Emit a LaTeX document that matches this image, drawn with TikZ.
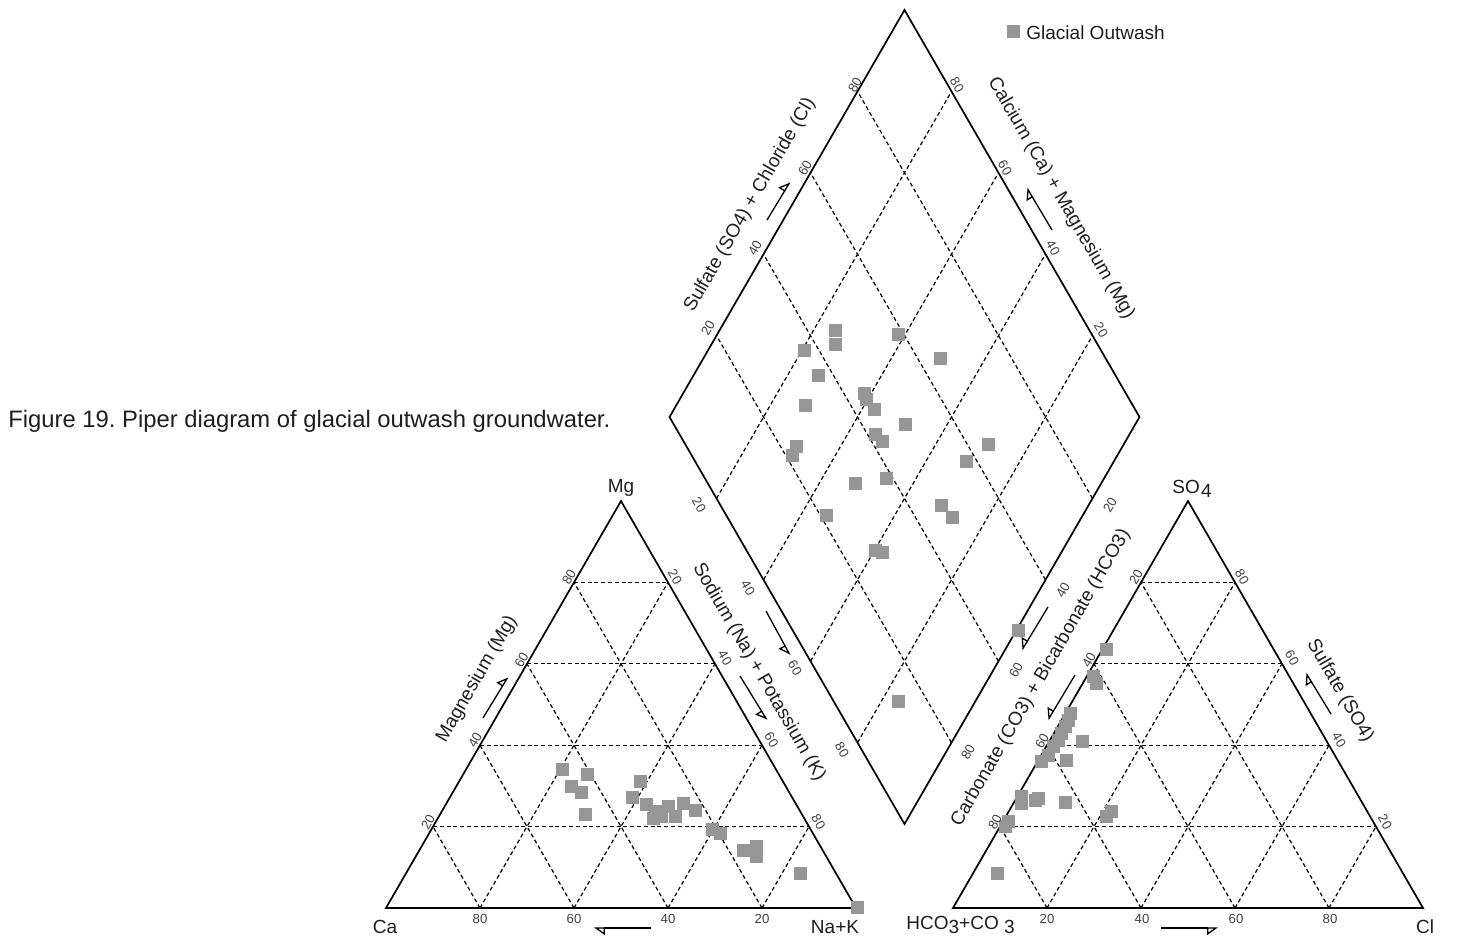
\documentclass[tikz,border=0pt]{standalone}
\usepackage{fontspec}
\setmainfont{Liberation Sans}
\usetikzlibrary{calc,arrows.meta}
\definecolor{samplegray}{RGB}{150,150,150}
\definecolor{tickgray}{RGB}{65,65,65}
\definecolor{textgray}{RGB}{30,30,30}
\newcommand{\lowered}[1]{\raisebox{-0.4ex}{#1}}
\frenchspacing
\tikzset{
    side/.style={line width=0.85pt,line join=miter},
    gridline/.style={line width=0.6pt,dash pattern=on 2pt off 1.4pt},
    ticklabel/.style={font=\fontsize{6.6}{7}\selectfont,text=tickgray,inner sep=0pt},
    endlabel/.style={font=\fontsize{9.5}{11}\selectfont,text=textgray,inner sep=0pt},
    axistitle/.style={font=\fontsize{9.5}{11}\selectfont,text=textgray,inner sep=0pt},
    sample/.style={rectangle,fill=samplegray,minimum size=6.5pt,inner sep=0pt},
    pointer/.style={line width=0.65pt,-{Triangle[open,#1,length=5pt,width=7pt]}},
    }

\begin{document}
\begin{tikzpicture}[x=0.5pt,y=-0.5pt]
\useasboundingbox (0,0) rectangle (1457,938);

% corners of the cation triangle, the anion triangle and the diamond
\coordinate (ca) at (386,908);
\coordinate (nak) at (856,908);
\coordinate (mg) at (621,501);
\coordinate (hco) at (953,908);
\coordinate (cl) at (1423,908);
\coordinate (so) at (1188,501);
\coordinate (bot) at (904.5,824);
\coordinate (lft) at (669.5,417);
\coordinate (top) at (904.5,10);
\coordinate (rgt) at (1139.5,417);

% dashed grid
\foreach \t in {0.2,0.4,0.6,0.8}{
    \draw[gridline] ($(ca)!\t!(mg)$) -- ($(nak)!\t!(mg)$);
    \draw[gridline] ($(ca)!\t!(nak)$) -- ($(mg)!\t!(nak)$);
    \draw[gridline] ($(ca)!\t!(nak)$) -- ($(ca)!\t!(mg)$);
    \draw[gridline] ($(hco)!\t!(so)$) -- ($(cl)!\t!(so)$);
    \draw[gridline] ($(hco)!\t!(cl)$) -- ($(so)!\t!(cl)$);
    \draw[gridline] ($(hco)!\t!(cl)$) -- ($(hco)!\t!(so)$);
    \draw[gridline] ($(bot)!\t!(rgt)$) -- ($(lft)!\t!(top)$);
    \draw[gridline] ($(bot)!\t!(lft)$) -- ($(rgt)!\t!(top)$);
}

\draw[side] (ca) -- (nak) -- (mg) -- cycle;
\draw[side] (hco) -- (cl) -- (so) -- cycle;
\draw[side] (bot) -- (rgt) -- (top) -- (lft) -- cycle;

% samples
\foreach \x/\y [count=\i] in {562.7/769,587.7/774.3,571/786.7,581/792.3,585/814.3,
    640/781,632.7/797.3,646/804,655/811.7,668.3/806.7,675/816.7,661.7/816.7,653/818,
    683.3/803.3,695/810.7,712.7/829,720/833.3,743.3/850,756.7/846.7,756.7/856.7,
    800/873.3,857/907}
    \node[sample] (cat\i) at (\x,\y) {};
\foreach \x/\y [count=\i] in {1106.7/649,1093.3/676.7,1096/683.3,1070.7/713.3,1068.3/720,
    1065/726.7,1061.7/733.3,1058.3/740,1053.3/746.7,1048.3/755,1041.7/761.7,1082.3/741,
    1066.7/760,1021.7/796.7,1021.7/803.3,1035/800,1038.3/798.3,1065.7/802.3,
    1111.7/811.7,1106.7/816.7,1008.3/821.7,1005/826.7,997.3/873.3}
    \node[sample] (an\i) at (\x,\y) {};
\foreach \x/\y [count=\i] in {835/330,835.7/344,804/350,898.3/334.3,940/358.3,818.3/375.7,
    805/405,864.3/393.3,866.7/399.3,874.3/409,905/424.3,875/434,882.7/441,796/446.7,
    792.7/455,988.3/444.3,966.7/461.7,855.7/483.3,886.7/478.3,826/515,941.7/505,
    952.7/517.3,875/550,882.7/552.7,1018.3/630,898.3/701.7}
    \node[sample] (dia\i) at (\x,\y) {};

% tick values
\foreach \v/\x/\y in {80/480/919,60/574/919,40/668/919,20/762/919,
    20/1047/919,40/1142/919,60/1236/919,80/1330/919}
    \node[ticklabel] at (\x,\y) {\v};
\foreach \v/\x/\y in {20/428/822,40/475/740,60/521.5/660,80/569/577,
    80/995/822,60/1042/741,40/1089/660,20/1136/577,
    20/708/328,40/755/248,60/805/168,80/855/85,
    80/968/752,60/1016/670,40/1063/590,20/1110/505}
    \node[ticklabel,rotate=60] at (\x,\y) {\v};
\foreach \v/\x/\y in {20/675/577,40/725/658,60/771.5/740,80/818.5/822,
    80/1242/577,60/1292/658,40/1339/740,20/1385/822,
    80/957/85,60/1005/168,40/1053/248,20/1101/330,
    20/699/505,40/748/588,60/795/668,80/842/750}
    \node[ticklabel,rotate=-60] at (\x,\y) {\v};

% corner names
\node[endlabel] (mglabel) at (621,488) {Mg};
\node[endlabel] (calabel) at (385,927) {Ca};
\node[endlabel] (naklabel) at (835,927) {Na+K};
\node[endlabel] (solabel) at (1192,489) {SO\kern0.6pt\lowered{4}};
\node[endlabel,anchor=west] (hcolabel) at (906,925) {HCO\lowered{3}+CO \lowered{3}};
\node[endlabel] (cllabel) at (1425,927) {Cl};

% axis titles and their arrows
\node[axistitle,rotate=60] (mgtitle) at (477,679) {Magnesium (Mg)};
\node[axistitle,rotate=-60] (naktitle) at (759,672) {Sodium (Na) + Potassium (K)};
\node[axistitle,rotate=60] (sucltitle) at (750,205) {Sulfate (SO4) + Chloride (Cl)};
\node[axistitle,rotate=-60] (camgtitle) at (1061,198) {Calcium (Ca) + Magnesium (Mg)};
\node[axistitle,rotate=60] (carbtitle) at (1041,678) {Carbonate (CO3) + Bicarbonate (HCO3)};
\node[axistitle,rotate=-60] (sotitle) at (1340,691) {Sulfate (SO4)};

\draw[pointer=left] (483,718) -- (508,677);
\draw[pointer=right] (766,611) -- (790,655);
\draw[pointer=right] (740,676) -- (767,720);
\draw[pointer=left] (651,928) -- (594,928);
\draw[pointer=right] (1161,928) -- (1218,928);
\draw[pointer=left] (1331,714) -- (1306,673);
\draw[pointer=right] (1048,607) -- (1022,650);
\draw[pointer=right] (1075,675) -- (1048,720);
\draw[pointer=left] (767,220) -- (790,182);
\draw[pointer=left] (1052,230) -- (1027,188);

% legend and caption
\node[sample] (legendmark) at (1013,31) {};
\node[endlabel,anchor=west] (legendtext) at (1026,33) {Glacial Outwash};
\node[anchor=west,font=\fontsize{11.9}{14}\selectfont,text=textgray,inner sep=0pt] (caption) at (8,421) {Figure 19. Piper diagram of glacial outwash groundwater.};
\end{tikzpicture}
\end{document}
